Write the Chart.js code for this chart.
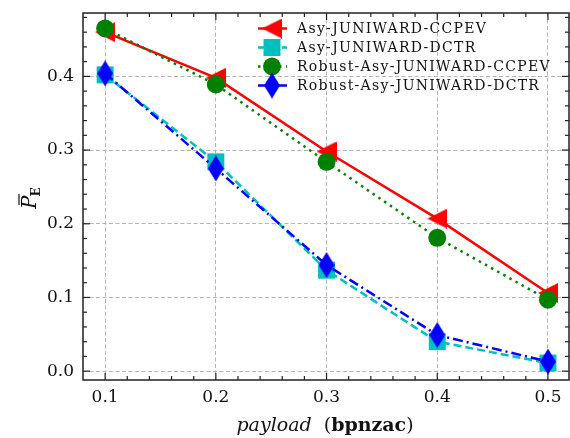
<!DOCTYPE html>
<html>
<head>
<meta charset="utf-8">
<script src="https://cdn.jsdelivr.net/npm/chart.js@4/dist/chart.umd.min.js"></script>
<style>
  html, body { margin: 0; padding: 0; background: #fff; overflow: hidden; }
  canvas { display: block; }
</style>
</head>
<body>
<canvas id="grafico" width="570" height="438"></canvas>
<script>
// dados
const payloads = [0.1, 0.2, 0.3, 0.4, 0.5];
const asyCcpev = [0.460, 0.398, 0.298, 0.207, 0.106];
const asyDctr = [0.402, 0.284, 0.137, 0.040, 0.011];
const robustCcpev = [0.465, 0.389, 0.284, 0.181, 0.097];
const robustDctr = [0.404, 0.275, 0.144, 0.049, 0.013];
const xTicks = [0.1, 0.2, 0.3, 0.4, 0.5];
const yTicks = [0.0, 0.1, 0.2, 0.3, 0.4];
const nomes = ['Asy-JUNIWARD-CCPEV', 'Asy-JUNIWARD-DCTR', 'Robust-Asy-JUNIWARD-CCPEV', 'Robust-Asy-JUNIWARD-DCTR'];

const SERIF = '"DejaVu Serif", "Liberation Serif", serif';

function trianguloEsq(cor) {
  const c = document.createElement('canvas');
  c.width = 20; c.height = 20;
  const g = c.getContext('2d');
  g.fillStyle = cor;
  g.beginPath();
  g.moveTo(0, 10); g.lineTo(20, 0); g.lineTo(20, 20); g.closePath();
  g.fill();
  return c;
}

function losango(cor) {
  const c = document.createElement('canvas');
  c.width = 16; c.height = 26;
  const g = c.getContext('2d');
  g.fillStyle = cor;
  g.beginPath();
  g.moveTo(8, 0); g.lineTo(16, 13); g.lineTo(8, 26); g.lineTo(0, 13); g.closePath();
  g.fill();
  return c;
}

const pontos = vals => payloads.map((x, i) => ({ x, y: vals[i] }));

const datasets = [
  { label: nomes[0], data: pontos(asyCcpev), borderColor: '#ff0000', backgroundColor: '#ff0000',
    borderWidth: 2.5, pointStyle: trianguloEsq('#ff0000'), pointRadius: 10, order: 4 },
  { label: nomes[1], data: pontos(asyDctr), borderColor: '#00bfbf', backgroundColor: '#00bfbf',
    borderWidth: 2.5, borderDash: [8, 4], pointStyle: 'rect', pointRadius: 12, order: 3 },
  { label: nomes[2], data: pontos(robustCcpev), borderColor: '#008000', backgroundColor: '#008000',
    borderWidth: 2.5, borderDash: [2.5, 4.5], pointStyle: 'circle', pointRadius: 9, order: 2 },
  { label: nomes[3], data: pontos(robustDctr), borderColor: '#0000ff', backgroundColor: '#0000ff',
    borderWidth: 2.5, borderDash: [10, 4, 2, 4], pointStyle: losango('#0000ff'), pointRadius: 12, order: 1 }
];
datasets.forEach(d => { d.pointBorderWidth = 0; d.fill = false; d.tension = 0; d.clip = 20; });

// moldura, ticks internos, legenda e titulos
const extras = {
  id: 'extras',
  afterDraw(chart) {
    const ctx = chart.ctx;
    const a = chart.chartArea;
    const xs = chart.scales.x, ys = chart.scales.y;
    ctx.save();
    ctx.strokeStyle = '#222';
    ctx.lineWidth = 1.2;
    const tick = (x1, y1, x2, y2) => { ctx.beginPath(); ctx.moveTo(x1, y1); ctx.lineTo(x2, y2); ctx.stroke(); };
    for (let v = 0.08; v <= 0.5201; v += 0.02) {
      const px = xs.getPixelForValue(v);
      if (px < a.left + 1 || px > a.right - 1) continue;
      const maior = Math.abs(v * 10 - Math.round(v * 10)) < 1e-6;
      const len = maior ? 7 : 4;
      tick(px, a.bottom, px, a.bottom - len);
      tick(px, a.top, px, a.top + len);
    }
    for (let v = -0.02; v <= 0.5001; v += 0.02) {
      const py = ys.getPixelForValue(v);
      if (py < a.top + 1 || py > a.bottom - 1) continue;
      const maior = Math.abs(v * 10 - Math.round(v * 10)) < 1e-6;
      const len = maior ? 7 : 4;
      tick(a.left, py, a.left + len, py);
      tick(a.right, py, a.right - len, py);
    }
    ctx.lineWidth = 1.5;
    ctx.strokeRect(a.left, a.top, a.right - a.left, a.bottom - a.top);

    // legenda
    ctx.font = '14px ' + SERIF;
    ctx.letterSpacing = '1.3px';
    ctx.textBaseline = 'middle';
    ctx.textAlign = 'left';
    datasets.forEach((d, i) => {
      const y = 28.5 + i * 19;
      ctx.strokeStyle = d.borderColor;
      ctx.lineWidth = d.borderWidth;
      ctx.setLineDash(d.borderDash || []);
      tick(258, y, 287, y);
      ctx.setLineDash([]);
      ctx.fillStyle = d.backgroundColor;
      Chart.helpers.drawPoint(ctx, { pointStyle: d.pointStyle, radius: d.pointRadius, rotation: 0, borderWidth: 0 }, 272, y);
      ctx.fillStyle = '#111';
      ctx.fillText(d.label, 297, y + 1);
    });
    ctx.letterSpacing = '0px';

    // titulo do eixo y
    ctx.save();
    ctx.translate(36, 209);
    ctx.rotate(-Math.PI / 2);
    ctx.fillStyle = '#111';
    ctx.textBaseline = 'alphabetic';
    ctx.font = 'italic 20px ' + SERIF;
    ctx.fillText('P', 0, 0);
    const wP = ctx.measureText('P').width;
    ctx.strokeStyle = '#111';
    ctx.lineWidth = 1.2;
    tick(4, -17, 15, -17);
    ctx.font = 'bold 12px ' + SERIF;
    ctx.fillText('E', wP - 1, 4);
    ctx.restore();

    // titulo do eixo x
    const partes = [
      { t: 'payload', f: 'italic 19px ' + SERIF },
      { t: '  (', f: '19px ' + SERIF },
      { t: 'bpnzac', f: 'bold 19px ' + SERIF },
      { t: ')', f: '19px ' + SERIF }
    ];
    let total = 0;
    partes.forEach(p => { ctx.font = p.f; p.w = ctx.measureText(p.t).width; total += p.w; });
    let x = 325 - total / 2;
    ctx.textBaseline = 'alphabetic';
    ctx.fillStyle = '#111';
    partes.forEach(p => { ctx.font = p.f; ctx.fillText(p.t, x, 431); x += p.w; });
    ctx.restore();
  }
};

new Chart(document.getElementById('grafico'), {
  type: 'line',
  data: { datasets },
  options: {
    responsive: false,
    animation: false,
    layout: { autoPadding: false, padding: { top: 13, right: 1, left: 0, bottom: 0 } },
    plugins: { legend: { display: false }, tooltip: { enabled: false } },
    scales: {
      x: {
        type: 'linear',
        min: 0.08,
        max: 0.519,
        afterBuildTicks: s => { s.ticks = xTicks.map(v => ({ value: v })); },
        afterFit: s => { s.height = 58; s.paddingLeft = 0; s.paddingRight = 0; },
        ticks: { font: { family: SERIF, size: 17 }, color: '#111', padding: 7,
          callback: v => v.toFixed(1), maxRotation: 0 },
        grid: { color: '#b4b4b4', lineWidth: 1, drawTicks: false },
        border: { display: false, dash: [4, 2.5] }
      },
      y: {
        min: -0.012,
        max: 0.486,
        afterBuildTicks: s => { s.ticks = yTicks.map(v => ({ value: v })); },
        afterFit: s => { s.width = 83; s.paddingTop = 0; s.paddingBottom = 0; },
        ticks: { font: { family: SERIF, size: 17 }, color: '#111', padding: 9,
          callback: v => v.toFixed(1) },
        grid: { color: '#b4b4b4', lineWidth: 1, drawTicks: false },
        border: { display: false, dash: [4, 2.5] }
      }
    }
  },
  plugins: [extras]
});
</script>
</body>
</html>
